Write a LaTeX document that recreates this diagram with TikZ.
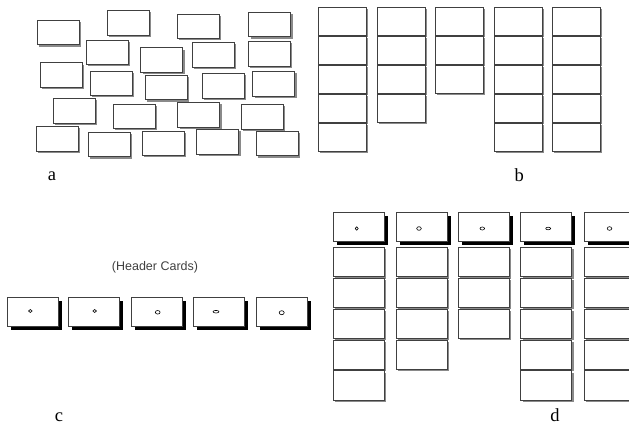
\documentclass[tikz,border=0pt]{standalone}
\usepackage{fontspec}
\setmainfont{Liberation Serif}
\setsansfont{Liberation Sans}
\usetikzlibrary{shadows}
\definecolor{edge}{HTML}{404040}
\definecolor{shade}{HTML}{8A8A8A}
\tikzset{
  card/.style={draw=edge, line width=0.7pt, fill=white, inner sep=0pt,
    minimum width=42pt, minimum height=24.5pt,
    drop shadow={shadow xshift=1.8pt, shadow yshift=-1.8pt, fill=shade, opacity=1}},
  colcard/.style={card, minimum width=48pt, minimum height=28pt},
  dcard/.style={card, minimum width=51pt, minimum height=29.4pt},
  header/.style={draw=edge, line width=0.7pt, fill=white, inner sep=0pt,
    minimum width=51pt, minimum height=29.5pt,
    drop shadow={shadow xshift=3.5pt, shadow yshift=-3.5pt, fill=black, opacity=1}},
  hole/.style={draw=black, line width=0.6pt},
  panellabel/.style={font=\fontsize{18.5}{20}\selectfont, anchor=base, inner sep=0pt},
  caption/.style={font=\sffamily\fontsize{12.5}{14}\selectfont, text=edge}
}
\begin{document}
\begin{tikzpicture}[x=1pt, y=-1pt]
\useasboundingbox (0,0) rectangle (629,425);
% ---------- panel a: scattered cards ----------
\node[card] (a1) at (58.5,32.5) {};
\node[card] (a2) at (128.2,22.8) {};
\node[card] (a3) at (198.5,26.2) {};
\node[card] (a4) at (269.8,24.5) {};
\node[card] (a5) at (107.5,52.2) {};
\node[card] (a6) at (161.7,60) {};
\node[card] (a7) at (213.2,54.7) {};
\node[card] (a8) at (269,53.7) {};
\node[card] (a9) at (61.2,75) {};
\node[card] (a10) at (111.3,83.3) {};
\node[card] (a11) at (166,87.5) {};
\node[card] (a12) at (223.5,85.7) {};
\node[card] (a13) at (273.7,83.7) {};
\node[card] (a14) at (74.5,110.8) {};
\node[card] (a15) at (134.3,116.2) {};
\node[card] (a16) at (198.7,114.7) {};
\node[card] (a17) at (262,116.7) {};
\node[card] (a18) at (57.5,138.8) {};
\node[card] (a19) at (109.3,144.5) {};
\node[card] (a20) at (163.3,143.3) {};
\node[card] (a21) at (217.7,141.8) {};
\node[card] (a22) at (277.3,143.5) {};
\node[panellabel] (la) at (52,180) {a};
% ---------- panel b: columns ----------
\foreach \c/\x/\n in {1/342.5/5, 2/401/4, 3/459.5/3, 4/518/5, 5/576.5/5}{
  \foreach \i in {1,...,\n}{
    \node[colcard] (b\c-\i) at (\x, {21.3+29.1*(\i-1)}) {};
  }
}
\node[panellabel] (lb) at (519.3,181) {b};
% ---------- panel c: header cards ----------
\node[caption] (hc) at (155,267) {(Header Cards)};
\node[header] (c1) at (33,312) {};
\node[header] (c2) at (94.3,312) {};
\node[header] (c3) at (157,312) {};
\node[header] (c4) at (219,312) {};
\node[header] (c5) at (281.7,312) {};
\draw[hole] ([shift={(-2.7,-1)}]c1.center) circle[x radius=1.8, y radius=1.5];
\draw[hole] ([shift={(0.4,-1)}]c2.center) circle[x radius=1.8, y radius=1.5];
\draw[hole] ([shift={(0.7,0.3)}]c3.center) circle[x radius=2.4, y radius=1.8];
\draw[hole] ([shift={(-3,-0.3)}]c4.center) circle[x radius=3, y radius=1.3];
\draw[hole] ([shift={(0,0.7)}]c5.center) circle[x radius=2.5, y radius=2];
\node[panellabel] (lc) at (59,421) {c};
% ---------- panel d: headers with columns ----------
\foreach \c/\x/\n/\dx/\rx/\ry in {1/358.7/5/-2/1.5/1.7, 2/421.5/4/-2.5/2.3/1.8, 3/483.8/3/-1.5/2.3/1.5, 4/546.2/5/2/2.5/1.3, 5/609.5/5/0/2.3/1.8}{
  \foreach \i in {1,...,\n}{
    \node[dcard] (d\c-\i) at (\x, {262+30.85*(\i-1)}) {};
  }
  \node[header] (dh\c) at (\x,227) {};
  \draw[hole] ([shift={(\dx,1.5)}]dh\c.center) circle[x radius=\rx, y radius=\ry];
}
\node[panellabel] (ld) at (555,421) {d};
\end{tikzpicture}
\end{document}
